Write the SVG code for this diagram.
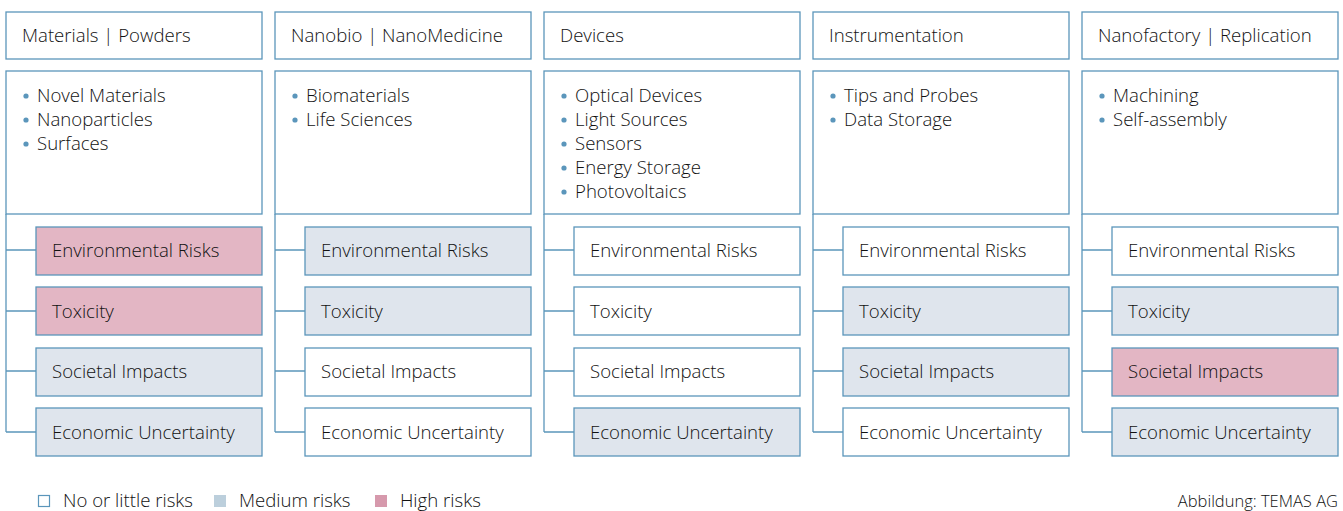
<svg xmlns="http://www.w3.org/2000/svg" width="1343" height="511" viewBox="0 0 1343 511">
<style>
.box{fill:#fff;stroke:#5b96bb;stroke-width:1.3}
.low{fill:#fff;stroke:#5b96bb;stroke-width:1.3}
.med{fill:#dfe5ed;stroke:#5b96bb;stroke-width:1.3}
.high{fill:#e3b6c4;stroke:#5b96bb;stroke-width:1.3}
.con{fill:none;stroke:#5b96bb;stroke-width:1.3}
text{font-family:"Open Sans","Noto Sans",sans-serif;font-size:18.6px;font-weight:300;fill:#111}
.bul{fill:#5b96bb}
.cred{font-size:16.5px}
</style>
<g id="connectors">
<path class="con" d="M6,214V432M6,250H36M6,311H36M6,371H36M6,432H36"/>
<path class="con" d="M275,214V432M275,250H305M275,311H305M275,371H305M275,432H305"/>
<path class="con" d="M544,214V432M544,250H574M544,311H574M544,371H574M544,432H574"/>
<path class="con" d="M813,214V432M813,250H843M813,311H843M813,371H843M813,432H843"/>
<path class="con" d="M1082,214V432M1082,250H1112M1082,311H1112M1082,371H1112M1082,432H1112"/>
</g>
<g id="col1">
<g id="h1"><rect class="box" x="6" y="12" width="256" height="47"/><text x="22" y="42">Materials | Powders</text></g>
<g id="b1"><rect class="box" x="6" y="71" width="256" height="143"/>
<circle class="bul" cx="26" cy="96" r="2.6"/><text x="37" y="102">Novel Materials</text>
<circle class="bul" cx="26" cy="120" r="2.6"/><text x="37" y="126">Nanoparticles</text>
<circle class="bul" cx="26" cy="144" r="2.6"/><text x="37" y="150">Surfaces</text></g>
<g id="r1a"><rect class="high" x="36" y="227" width="226" height="48"/><text x="52" y="257">Environmental Risks</text></g>
<g id="r1b"><rect class="high" x="36" y="287" width="226" height="48"/><text x="52" y="318">Toxicity</text></g>
<g id="r1c"><rect class="med" x="36" y="348" width="226" height="48"/><text x="52" y="378">Societal Impacts</text></g>
<g id="r1d"><rect class="med" x="36" y="408" width="226" height="48"/><text x="52" y="439">Economic Uncertainty</text></g>
</g>
<g id="col2">
<g id="h2"><rect class="box" x="275" y="12" width="256" height="47"/><text x="291" y="42">Nanobio | NanoMedicine</text></g>
<g id="b2"><rect class="box" x="275" y="71" width="256" height="143"/>
<circle class="bul" cx="295" cy="96" r="2.6"/><text x="306" y="102">Biomaterials</text>
<circle class="bul" cx="295" cy="120" r="2.6"/><text x="306" y="126">Life Sciences</text></g>
<g id="r2a"><rect class="med" x="305" y="227" width="226" height="48"/><text x="321" y="257">Environmental Risks</text></g>
<g id="r2b"><rect class="med" x="305" y="287" width="226" height="48"/><text x="321" y="318">Toxicity</text></g>
<g id="r2c"><rect class="low" x="305" y="348" width="226" height="48"/><text x="321" y="378">Societal Impacts</text></g>
<g id="r2d"><rect class="low" x="305" y="408" width="226" height="48"/><text x="321" y="439">Economic Uncertainty</text></g>
</g>
<g id="col3">
<g id="h3"><rect class="box" x="544" y="12" width="256" height="47"/><text x="560" y="42">Devices</text></g>
<g id="b3"><rect class="box" x="544" y="71" width="256" height="143"/>
<circle class="bul" cx="564" cy="96" r="2.6"/><text x="575" y="102">Optical Devices</text>
<circle class="bul" cx="564" cy="120" r="2.6"/><text x="575" y="126">Light Sources</text>
<circle class="bul" cx="564" cy="144" r="2.6"/><text x="575" y="150">Sensors</text>
<circle class="bul" cx="564" cy="168" r="2.6"/><text x="575" y="174">Energy Storage</text>
<circle class="bul" cx="564" cy="192" r="2.6"/><text x="575" y="198">Photovoltaics</text></g>
<g id="r3a"><rect class="low" x="574" y="227" width="226" height="48"/><text x="590" y="257">Environmental Risks</text></g>
<g id="r3b"><rect class="low" x="574" y="287" width="226" height="48"/><text x="590" y="318">Toxicity</text></g>
<g id="r3c"><rect class="low" x="574" y="348" width="226" height="48"/><text x="590" y="378">Societal Impacts</text></g>
<g id="r3d"><rect class="med" x="574" y="408" width="226" height="48"/><text x="590" y="439">Economic Uncertainty</text></g>
</g>
<g id="col4">
<g id="h4"><rect class="box" x="813" y="12" width="256" height="47"/><text x="829" y="42">Instrumentation</text></g>
<g id="b4"><rect class="box" x="813" y="71" width="256" height="143"/>
<circle class="bul" cx="833" cy="96" r="2.6"/><text x="844" y="102">Tips and Probes</text>
<circle class="bul" cx="833" cy="120" r="2.6"/><text x="844" y="126">Data Storage</text></g>
<g id="r4a"><rect class="low" x="843" y="227" width="226" height="48"/><text x="859" y="257">Environmental Risks</text></g>
<g id="r4b"><rect class="med" x="843" y="287" width="226" height="48"/><text x="859" y="318">Toxicity</text></g>
<g id="r4c"><rect class="med" x="843" y="348" width="226" height="48"/><text x="859" y="378">Societal Impacts</text></g>
<g id="r4d"><rect class="low" x="843" y="408" width="226" height="48"/><text x="859" y="439">Economic Uncertainty</text></g>
</g>
<g id="col5">
<g id="h5"><rect class="box" x="1082" y="12" width="256" height="47"/><text x="1098" y="42">Nanofactory | Replication</text></g>
<g id="b5"><rect class="box" x="1082" y="71" width="256" height="143"/>
<circle class="bul" cx="1102" cy="96" r="2.6"/><text x="1113" y="102">Machining</text>
<circle class="bul" cx="1102" cy="120" r="2.6"/><text x="1113" y="126">Self-assembly</text></g>
<g id="r5a"><rect class="low" x="1112" y="227" width="226" height="48"/><text x="1128" y="257">Environmental Risks</text></g>
<g id="r5b"><rect class="med" x="1112" y="287" width="226" height="48"/><text x="1128" y="318">Toxicity</text></g>
<g id="r5c"><rect class="high" x="1112" y="348" width="226" height="48"/><text x="1128" y="378">Societal Impacts</text></g>
<g id="r5d"><rect class="med" x="1112" y="408" width="226" height="48"/><text x="1128" y="439">Economic Uncertainty</text></g>
</g>
<g id="legend">
<rect x="38.5" y="495.5" width="11" height="11" fill="#fff" stroke="#5b96bb" stroke-width="1.2"/>
<text x="63" y="507">No or little risks</text>
<rect x="214" y="495" width="12" height="12" fill="#bccfdc"/>
<text x="239" y="507">Medium risks</text>
<rect x="375" y="495" width="12" height="12" fill="#d699ac"/>
<text x="400" y="507">High risks</text>
</g>
<text class="cred" x="1338" y="507" text-anchor="end">Abbildung: TEMAS AG</text>
</svg>
